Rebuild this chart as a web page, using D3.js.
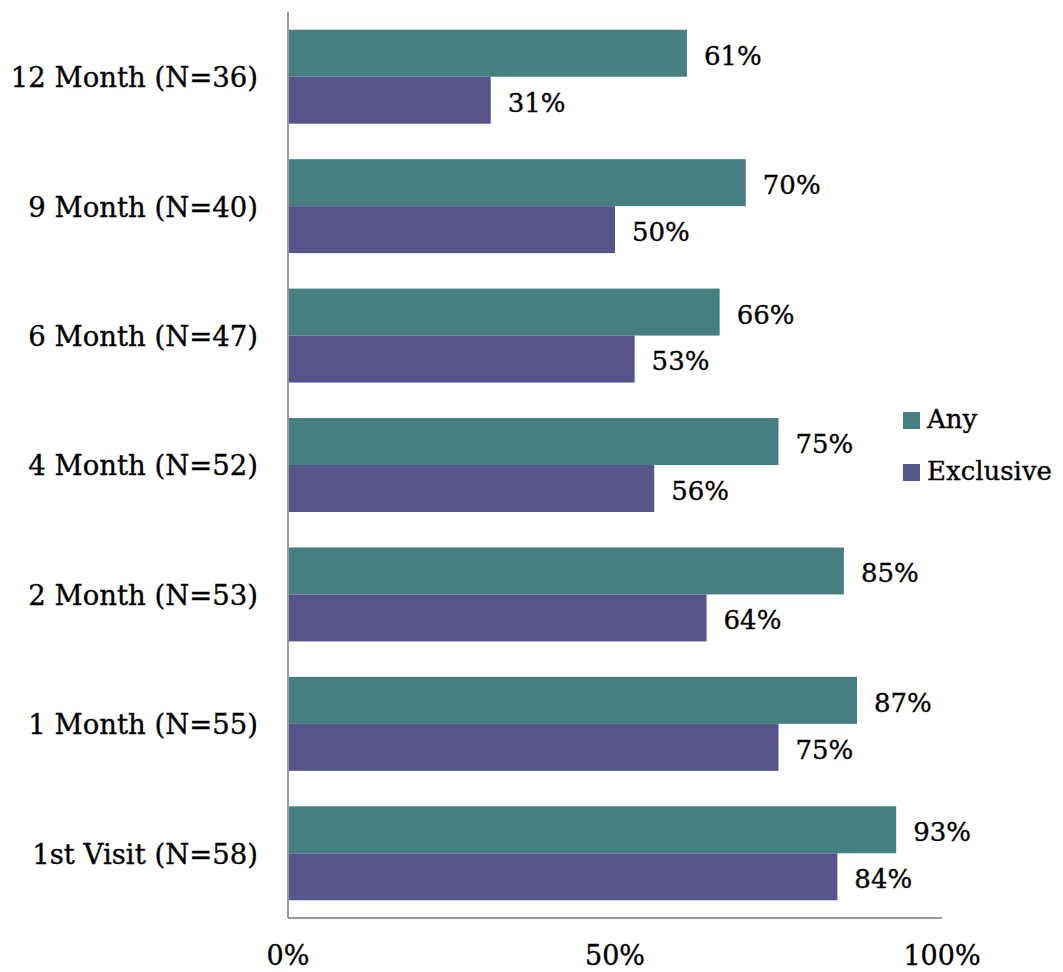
<!DOCTYPE html>
<html>
<head>
<meta charset="utf-8">
<script src="https://cdn.jsdelivr.net/npm/d3@7"></script>
<style>
  body { margin: 0; background: #fff; }
  text { font-family: "DejaVu Serif", serif; fill: #000; stroke: #000; stroke-width: 0.35px; }
</style>
</head>
<body>
<div id="chart"></div>
<script>
var categories = ["12 Month (N=36)", "9 Month (N=40)", "6 Month (N=47)", "4 Month (N=52)",
                  "2 Month (N=53)", "1 Month (N=55)", "1st Visit (N=58)"];
var seriesNames = ["Any", "Exclusive"];
var anyValues = [61, 70, 66, 75, 85, 87, 93];
var exclusiveValues = [31, 50, 53, 56, 64, 75, 84];
var tickValues = [0, 50, 100];

function base() {
    var w = 1063;
    var h = 972;
    var left = 288, right = 942, top = 12, bottom = 918;

    var color = d3.scaleOrdinal()
        .domain(seriesNames)
        .range(["#457f82", "#565489"]);

    var svg = d3.select("#chart")
        .append("svg")
        .attr("width", w)
        .attr("height", h);

    var x = d3.scaleLinear().domain([0, 100]).range([left, right]);
    var y0 = d3.scaleBand().domain(categories).range([top, bottom])
        .paddingInner(0.274).paddingOuter(0.137);
    var y1 = d3.scaleBand().domain(seriesNames).range([0, y0.bandwidth()]);

    var rows = categories.map(function(c, i) {
        return { cat: c, vals: [
            { key: "Any", value: anyValues[i] },
            { key: "Exclusive", value: exclusiveValues[i] }
        ]};
    });

    var groups = svg.selectAll("g.row")
        .data(rows)
        .enter()
        .append("g")
        .attr("class", "row")
        .attr("transform", function(d) { return "translate(0," + y0(d.cat) + ")"; });

    groups.selectAll("rect")
        .data(function(d) { return d.vals; })
        .enter()
        .append("rect")
        .attr("x", x(0))
        .attr("y", function(d) { return y1(d.key); })
        .attr("width", function(d) { return x(d.value) - x(0); })
        .attr("height", y1.bandwidth())
        .attr("fill", function(d) { return color(d.key); });

    // value labels
    groups.selectAll("text.val")
        .data(function(d) { return d.vals; })
        .enter()
        .append("text")
        .attr("class", "val")
        .attr("x", function(d) { return x(d.value) + 17; })
        .attr("y", function(d) { return y1(d.key) + y1.bandwidth() / 2; })
        .attr("dy", "0.44em")
        .attr("font-size", "26px")
        .text(function(d) { return d.value + "%"; });

    // category labels
    svg.selectAll("text.cat")
        .data(categories)
        .enter()
        .append("text")
        .attr("class", "cat")
        .attr("x", 258)
        .attr("y", function(d) { return y0(d) + y0.bandwidth() / 2; })
        .attr("dy", "0.38em")
        .attr("text-anchor", "end")
        .attr("font-size", "27.5px")
        .text(function(d) { return d; });

    // axes lines
    svg.append("line")
        .attr("x1", x(0)).attr("x2", x(0))
        .attr("y1", top).attr("y2", bottom)
        .attr("stroke", "#9a9a9a").attr("stroke-width", 2);
    svg.append("line")
        .attr("x1", x(0)).attr("x2", x(100))
        .attr("y1", bottom).attr("y2", bottom)
        .attr("stroke", "#9a9a9a").attr("stroke-width", 2);

    svg.selectAll("text.tick")
        .data(tickValues)
        .enter()
        .append("text")
        .attr("class", "tick")
        .attr("x", function(d) { return x(d); })
        .attr("y", 965)
        .attr("text-anchor", "middle")
        .attr("font-size", "27px")
        .text(function(d) { return d + "%"; });

    // legend
    var legend = svg.selectAll("g.legend")
        .data(seriesNames)
        .enter()
        .append("g")
        .attr("class", "legend")
        .attr("transform", function(d, i) { return "translate(903," + (412 + i * 52) + ")"; });
    legend.append("rect")
        .attr("width", 17).attr("height", 17)
        .attr("fill", function(d) { return color(d); });
    legend.append("text")
        .attr("x", 24)
        .attr("y", 16)
        .attr("font-size", "26px")
        .text(function(d) { return d; });
}

window.onload = base;
</script>
</body>
</html>
